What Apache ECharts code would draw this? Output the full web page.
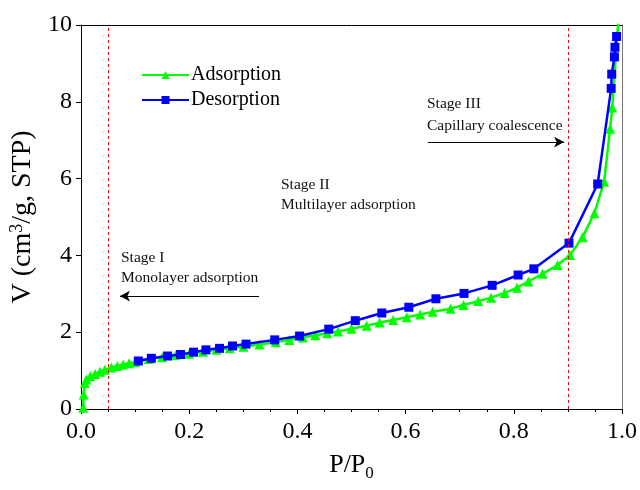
<!DOCTYPE html>
<html><head><meta charset="utf-8">
<script src="https://cdn.jsdelivr.net/npm/echarts@6/dist/echarts.min.js"></script>
<style>html,body{margin:0;padding:0;background:#fff}#c{width:640px;height:490px}</style>
</head><body><div id="c"></div>
<script>
var adsX = [0.004,0.005,0.007,0.010,0.017,0.026,0.035,0.044,0.056,0.067,0.078,0.089,0.100,0.125,0.150,0.175,0.200,0.225,0.250,0.275,0.300,0.330,0.360,0.385,0.410,0.433,0.455,0.475,0.500,0.528,0.552,0.577,0.602,0.627,0.650,0.683,0.707,0.734,0.758,0.783,0.806,0.827,0.853,0.881,0.904,0.927,0.949,0.967,0.978,0.982,0.993];
var adsY = [0.03,0.38,0.68,0.77,0.85,0.91,0.97,1.02,1.08,1.12,1.16,1.19,1.22,1.30,1.35,1.40,1.44,1.49,1.54,1.58,1.62,1.68,1.74,1.80,1.86,1.92,1.97,2.02,2.09,2.17,2.25,2.32,2.39,2.46,2.53,2.61,2.71,2.81,2.90,3.02,3.16,3.32,3.52,3.75,4.01,4.47,5.10,5.92,7.30,7.85,10.08];
var desX = [0.990,0.987,0.986,0.981,0.980,0.955,0.902,0.837,0.808,0.760,0.708,0.656,0.606,0.556,0.507,0.458,0.404,0.358,0.305,0.280,0.256,0.231,0.208,0.184,0.160,0.130,0.106];
var desY = [9.70,9.42,9.17,8.72,8.35,5.86,4.32,3.65,3.49,3.22,3.01,2.87,2.65,2.50,2.30,2.08,1.90,1.80,1.69,1.64,1.58,1.54,1.48,1.42,1.38,1.32,1.25];
var stageLines = [0.05, 0.9];
var xTicks = {min:0, max:1, interval:0.2};
var yTicks = {min:0, max:10, interval:2};

function pairs(xs, ys){ return xs.map(function(x,i){return [x, ys[i]];}); }
var F = 'Liberation Serif';
var TF = '15.5px "Liberation Serif"';
var chart = echarts.init(document.getElementById('c'));
chart.setOption({
  animation:false,
  backgroundColor:'#fff',
  grid:{left:81, right:18, top:25, bottom:81, show:false},
  legend:{
    orient:'vertical', left:136, top:60, itemWidth:47, itemHeight:10, itemGap:5,
    textStyle:{fontFamily:F, fontSize:20, color:'#000', padding:[0,0,0,-3]},
    data:['Adsorption','Desorption']
  },
  xAxis:[{
    type:'value', min:xTicks.min, max:xTicks.max, interval:xTicks.interval,
    name:'P/P{s|0}', nameLocation:'middle', nameGap:40,
    nameTextStyle:{fontFamily:F, fontSize:26, color:'#000', rich:{s:{fontFamily:F, fontSize:17, verticalAlign:'bottom', padding:[16,0,0,0]}}},
    axisLine:{onZero:false, lineStyle:{color:'#000', width:1}},
    axisTick:{inside:false, length:5, lineStyle:{color:'#000'}},
    minorTick:{show:true, splitNumber:4, length:3, lineStyle:{color:'#000'}},
    axisLabel:{fontFamily:F, fontSize:24, color:'#000', margin:11, formatter:function(v){return v.toFixed(1);}},
    splitLine:{show:false}
  },{
    type:'value', position:'top', min:0, max:1,
    axisLine:{show:true, onZero:false, lineStyle:{color:'#000'}}, axisTick:{show:false}, axisLabel:{show:false}, splitLine:{show:false}
  }],
  yAxis:[{
    type:'value', min:yTicks.min, max:yTicks.max, interval:yTicks.interval,
    name:'{a|V (cm}{s|3}{a|/g, STP)}', nameLocation:'middle', nameGap:40, nameRotate:90,
    nameTextStyle:{fontFamily:F, fontSize:28, color:'#000', rich:{a:{fontFamily:F, fontSize:28}, s:{fontFamily:F, fontSize:18, verticalAlign:'top', padding:[0,0,12,0]}}},
    axisLine:{show:true, onZero:false, lineStyle:{color:'#000', width:1}},
    axisTick:{show:true, inside:false, length:5, lineStyle:{color:'#000'}},
    axisLabel:{fontFamily:F, fontSize:24, color:'#000', margin:9},
    splitLine:{show:false}
  },{
    type:'value', position:'right', min:0, max:10,
    axisLine:{show:true, onZero:false, lineStyle:{color:'#777'}}, axisTick:{show:false}, axisLabel:{show:false}, splitLine:{show:false}
  }],
  series:[
    {name:'Adsorption', type:'line', data:pairs(adsX, adsY), symbol:'triangle', symbolSize:10,
     color:'#00ff00', lineStyle:{width:2.5, color:'#00ff00'}, itemStyle:{color:'#00ff00'}, z:3,
     markLine:{silent:true, symbol:['none','none'], label:{show:false},
       lineStyle:{color:'#ff0000', type:[3,3], width:1},
       data: stageLines.map(function(v){return {xAxis:v};})}},
    {name:'Desorption', type:'line', data:pairs(desX, desY), symbol:'rect', symbolSize:9,
     color:'#0000ff', lineStyle:{width:2.5, color:'#0000ff'}, itemStyle:{color:'#0000ff'}, z:4,
     markLine:{silent:true, symbol:['none','arrow'], symbolSize:[8,10], label:{show:false},
       lineStyle:{color:'#000', type:'solid', width:1.2},
       data:[
         [{coord:[0.641,6.95]},{coord:[0.893,6.95]}],
         [{coord:[0.329,2.94]},{coord:[0.072,2.94]}]
       ]}}
  ],
  graphic:[
    {type:'text', left:427, top:96, style:{text:'Stage III', font:TF, fill:'#111'}},
    {type:'text', left:427, top:118, style:{text:'Capillary coalescence', font:TF, fill:'#111'}},
    {type:'text', left:281, top:177, style:{text:'Stage II', font:TF, fill:'#111'}},
    {type:'text', left:281, top:197, style:{text:'Multilayer adsorption', font:TF, fill:'#111'}},
    {type:'text', left:121, top:250, style:{text:'Stage I', font:TF, fill:'#111'}},
    {type:'text', left:121, top:270, style:{text:'Monolayer adsorption', font:TF, fill:'#111'}}
  ]
});
</script></body></html>
